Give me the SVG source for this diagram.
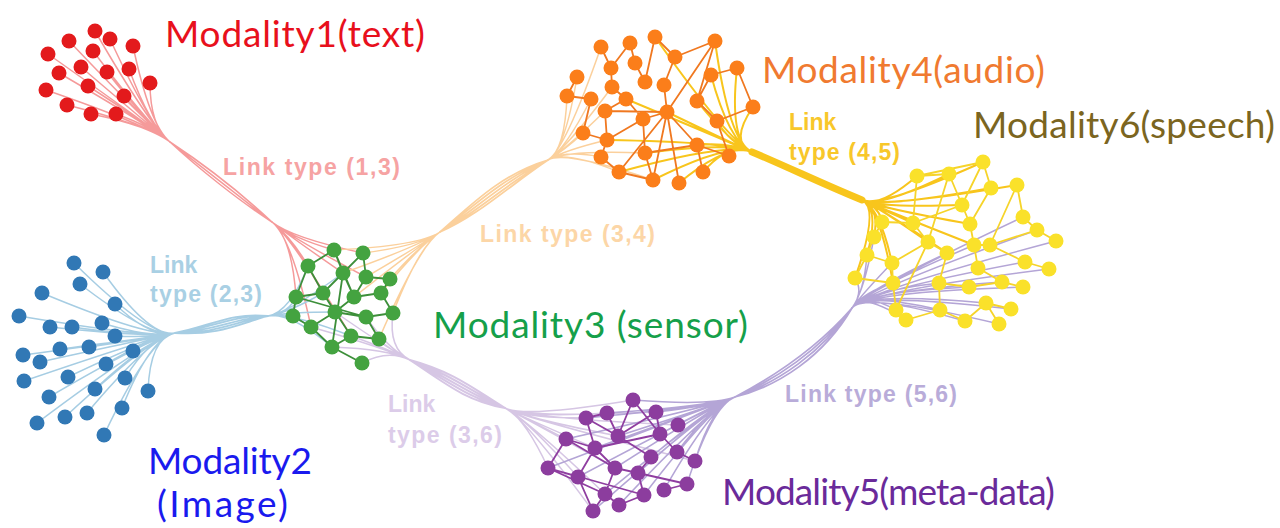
<svg xmlns="http://www.w3.org/2000/svg" width="1280" height="528" viewBox="0 0 1280 528">
<style>
.b{fill:none;stroke-linecap:round}
.rb{stroke:#f59a9a;stroke-width:1.5}
.bb{stroke:#a6cde3;stroke-width:1.5}
.pb{stroke:#fbd09c;stroke-width:1.5}
.gb{stroke:#f8c51c;stroke-width:2}
.lb{stroke:#d6c6e4;stroke-width:1.5}
.vb{stroke:#b4a5d6;stroke-width:1.5}
.ie{fill:none;stroke-width:1.8;stroke-linecap:round}
circle{r:7.5px}
.mod{font-family:Lato,"Open Sans",sans-serif;font-size:37px}
.lnk{font-family:"Liberation Sans",Arial,sans-serif;font-weight:bold;font-size:23px}
</style>
<rect width="1280" height="528" fill="#ffffff"/>
<g id="connectors">
<path class="b rb" d="M95 31Q150 126 170 142M69 41Q150 126 170 142M110 39Q150 126 170 142M133 46Q150 126 170 142M48 54Q150 126 170 142M93 51Q150 126 170 142M59 73Q150 126 170 142M81 67Q150 126 170 142M107 72Q150 126 170 142M129 69Q150 126 170 142M150 83Q150 126 170 142M46 90Q150 126 170 142M88 86Q150 126 170 142M124 96Q150 126 170 142M67 105Q150 126 170 142M91 114Q150 126 170 142M116 114Q150 126 170 142"/>
<path class="b" stroke="#f59a9a" stroke-width="1.5" d="M170 142C200 166 240 197 272 222M170 142C202 163 242 194 272 222M170 142C198 168 238 200 272 222M170 142L272 222"/>
<path class="b rb" d="M272 222Q292 238 334 250M272 222Q292 238 363 253M272 222Q292 238 308 266M272 222Q292 238 343 273M272 222Q292 238 296 297M272 222Q292 238 323 293M272 222Q292 238 366 277M272 222Q292 238 311 327M272 222Q292 238 351 336"/>
<path class="b bb" d="M74 263Q150 338 175 333M103 272Q150 338 175 333M80 284Q150 338 175 333M42 293Q150 338 175 333M115 304Q150 338 175 333M19 316Q150 338 175 333M50 327Q150 338 175 333M72 327Q150 338 175 333M102 323Q150 338 175 333M115 336Q150 338 175 333M60 349Q150 338 175 333M89 347Q150 338 175 333M133 351Q150 338 175 333M23 355Q150 338 175 333M40 362Q150 338 175 333M106 364Q150 338 175 333M24 381Q150 338 175 333M68 377Q150 338 175 333M125 378Q150 338 175 333M95 389Q150 338 175 333M148 391Q150 338 175 333M49 397Q150 338 175 333M87 413Q150 338 175 333M65 417Q150 338 175 333M122 408Q150 338 175 333M37 423Q150 338 175 333M104 435Q150 338 175 333"/>
<path class="b" stroke="#a6cde3" stroke-width="1.8" d="M175 333C215 331 235 318 268 316M175 333C215 334 237 321 268 316M175 333C213 328 233 315 268 316M175 333C217 336 239 324 268 316M175 333C211 326 231 312 268 316"/>
<path class="b bb" d="M268 316Q290 312 296 297M268 316Q290 312 293 316M268 316Q290 312 311 327M268 316Q290 312 323 293M268 316Q290 312 308 266M268 316Q290 312 335 312M268 316Q290 312 343 273M268 316Q290 312 332 347M268 316Q290 312 351 336"/>
<path class="b pb" d="M363 253Q419 246 440 232M366 277Q419 246 440 232M390 279Q419 246 440 232M381 293Q419 246 440 232M393 313Q419 246 440 232M354 297Q419 246 440 232M343 273Q419 246 440 232M379 339Q419 246 440 232M334 250Q419 246 440 232"/>
<path class="b" stroke="#fbd09c" stroke-width="1.8" d="M440 232C475 210 505 180 548 160M440 232C477 213 507 183 548 160M440 232C473 207 503 177 548 160M440 232C479 215 509 186 548 160M440 232C471 205 501 174 548 160"/>
<path class="b pb" d="M548 160Q565 150 601 47M548 160Q565 150 577 77M548 160Q565 150 567 96M548 160Q565 150 591 99M548 160Q565 150 583 133M548 160Q565 150 607 140M548 160Q565 150 601 157M548 160Q565 150 619 172M548 160Q565 150 605 111M548 160Q565 150 612 87M548 160Q565 150 653 180M548 160Q565 150 645 153"/>
<path class="b gb" d="M729 156Q729 142 752 152M717 121Q729 142 752 152M697 145Q729 142 752 152M703 172Q729 142 752 152M711 75Q729 142 752 152M737 68Q729 142 752 152M753 107Q729 142 752 152M697 101Q729 142 752 152M715 41Q729 142 752 152M667 112Q729 142 752 152M645 153Q729 142 752 152M653 180Q729 142 752 152M679 183Q729 142 752 152M619 172Q729 142 752 152M607 140Q729 142 752 152M626 99Q729 142 752 152M655 37Q729 142 752 152"/>
<path class="b" stroke="#f8c51c" stroke-width="7" d="M752 152C790 168 825 185 862 200"/>
<path class="b gb" d="M862 200Q880 208 917 176M862 200Q880 208 949 174M862 200Q880 208 983 162M862 200Q880 208 991 188M862 200Q880 208 962 205M862 200Q880 208 882 222M862 200Q880 208 913 223M862 200Q880 208 970 224M862 200Q880 208 874 237M862 200Q880 208 928 242M862 200Q880 208 974 245M862 200Q880 208 867 255M862 200Q880 208 892 263M862 200Q880 208 947 253M862 200Q880 208 855 278M862 200Q880 208 893 283M862 200Q880 208 1017 185"/>
<path class="b lb" d="M332 347Q388 349 410 360M351 336Q388 349 410 360M362 363Q388 349 410 360M379 339Q388 349 410 360M393 313Q388 349 410 360M366 317Q388 349 410 360M311 327Q388 349 410 360M335 312Q388 349 410 360"/>
<path class="b" stroke="#d6c6e4" stroke-width="2" d="M410 360C450 378 470 395 505 408M410 360C452 375 472 392 505 408M410 360C448 381 468 398 505 408M410 360C454 372 474 389 505 408M410 360C446 384 466 401 505 408"/>
<path class="b lb" d="M505 408Q525 418 548 468M505 408Q525 418 566 439M505 408Q525 418 586 418M505 408Q525 418 607 413M505 408Q525 418 633 400M505 408Q525 418 656 412M505 408Q525 418 678 425M505 408Q525 418 578 477M505 408Q525 418 593 511M505 408Q525 418 605 494M505 408Q525 418 595 448M505 408Q525 418 618 436M505 408Q525 418 615 468M505 408Q525 418 695 461"/>
<path class="b vb" d="M633 400Q712 406 735 397M586 418Q712 406 735 397M607 413Q712 406 735 397M656 412Q712 406 735 397M678 425Q712 406 735 397M566 439Q712 406 735 397M618 436Q712 406 735 397M595 448Q712 406 735 397M660 434Q712 406 735 397M677 452Q712 406 735 397M651 457Q712 406 735 397M695 461Q712 406 735 397M548 468Q712 406 735 397M615 468Q712 406 735 397M578 477Q712 406 735 397M638 473Q712 406 735 397M687 484Q712 406 735 397M605 494Q712 406 735 397M644 495Q712 406 735 397M664 490Q712 406 735 397M593 511Q712 406 735 397M619 505Q712 406 735 397"/>
<path class="b" stroke="#b4a5d6" stroke-width="1.8" d="M735 397C775 380 820 350 852 308M735 397C777 383 822 353 852 308M735 397C773 377 818 347 852 308M735 397C779 386 824 356 852 308"/>
<path class="b vb" d="M852 308Q864 292 855 278M852 308Q864 292 867 255M852 308Q864 292 893 283M852 308Q864 292 896 310M852 308Q864 292 906 320M852 308Q864 292 940 310M852 308Q864 292 939 283M852 308Q864 292 965 321M852 308Q864 292 969 287M852 308Q864 292 986 303M852 308Q864 292 999 324M852 308Q864 292 1011 309M852 308Q864 292 1002 282M852 308Q864 292 1023 287M852 308Q864 292 1025 262M852 308Q864 292 1037 230M852 308Q864 292 1056 241M852 308Q864 292 1023 217M852 308Q864 292 974 245M852 308Q864 292 947 253M852 308Q864 292 892 263M852 308Q864 292 874 237M852 308Q864 292 1049 269"/>
<g class="lnk">
<text x="223" y="175" fill="#f6a3a3" textLength="177">Link type (1,3)</text>
<text x="150" y="273" fill="#a9d0e4">Link</text>
<text x="150" y="302" fill="#a9d0e4" textLength="112">type (2,3)</text>
<text x="480" y="242" fill="#fcd6a7" textLength="175">Link type (3,4)</text>
<text x="789" y="130" fill="#f8c72a">Link</text>
<text x="789" y="160" fill="#f8c72a" textLength="111">type (4,5)</text>
<text x="785" y="402" fill="#b9acd9" textLength="172">Link type (5,6)</text>
<text x="388" y="412" fill="#dccce9">Link</text>
<text x="388" y="443" fill="#dccce9" textLength="114">type (3,6)</text>
</g>
</g>
<g id="modality1">
<g fill="#e31a1c">
<circle cx="95" cy="31" r="7.5"/><circle cx="69" cy="41" r="7.5"/><circle cx="110" cy="39" r="7.5"/><circle cx="133" cy="46" r="7.5"/><circle cx="48" cy="54" r="7.5"/><circle cx="93" cy="51" r="7.5"/><circle cx="59" cy="73" r="7.5"/><circle cx="81" cy="67" r="7.5"/><circle cx="107" cy="72" r="7.5"/><circle cx="129" cy="69" r="7.5"/><circle cx="150" cy="83" r="7.5"/><circle cx="46" cy="90" r="7.5"/><circle cx="88" cy="86" r="7.5"/><circle cx="124" cy="96" r="7.5"/><circle cx="67" cy="105" r="7.5"/><circle cx="91" cy="114" r="7.5"/><circle cx="116" cy="114" r="7.5"/>
</g>
<text class="mod" x="165" y="47" fill="#e8101c" textLength="260">Modality1(text)</text>
</g>
<g id="modality2">
<g fill="#3178b5">
<circle cx="74" cy="263" r="7.5"/><circle cx="103" cy="272" r="7.5"/><circle cx="80" cy="284" r="7.5"/><circle cx="42" cy="293" r="7.5"/><circle cx="115" cy="304" r="7.5"/><circle cx="19" cy="316" r="7.5"/><circle cx="50" cy="327" r="7.5"/><circle cx="72" cy="327" r="7.5"/><circle cx="102" cy="323" r="7.5"/><circle cx="115" cy="336" r="7.5"/><circle cx="60" cy="349" r="7.5"/><circle cx="89" cy="347" r="7.5"/><circle cx="133" cy="351" r="7.5"/><circle cx="23" cy="355" r="7.5"/><circle cx="40" cy="362" r="7.5"/><circle cx="106" cy="364" r="7.5"/><circle cx="24" cy="381" r="7.5"/><circle cx="68" cy="377" r="7.5"/><circle cx="125" cy="378" r="7.5"/><circle cx="95" cy="389" r="7.5"/><circle cx="148" cy="391" r="7.5"/><circle cx="49" cy="397" r="7.5"/><circle cx="87" cy="413" r="7.5"/><circle cx="65" cy="417" r="7.5"/><circle cx="122" cy="408" r="7.5"/><circle cx="37" cy="423" r="7.5"/><circle cx="104" cy="435" r="7.5"/>
</g>
<text class="mod" x="148" y="474" fill="#1a1aee" textLength="164">Modality2</text>
<text class="mod" x="157" y="517" fill="#1a1aee" textLength="131">(Image)</text>
</g>
<g id="modality3">
<path class="ie" stroke="#3d8f3a" d="M334 250L343 273M334 250L308 266M363 253L343 273M363 253L366 277M308 266L296 297M308 266L323 293M343 273L354 297M343 273L323 293M366 277L390 279M366 277L354 297M390 279L381 293M296 297L323 293M296 297L293 316M323 293L335 312M354 297L381 293M354 297L335 312M381 293L393 313M293 316L311 327M335 312L311 327M335 312L366 317M366 317L393 313M311 327L332 347M351 336L379 339M351 336L332 347M332 347L362 363M366 317L379 339M323 293L351 336M343 273L332 347M296 297L366 317M334 250L354 297"/>
<g fill="#44a340">
<circle cx="334" cy="250" r="7.5"/><circle cx="363" cy="253" r="7.5"/><circle cx="308" cy="266" r="7.5"/><circle cx="343" cy="273" r="7.5"/><circle cx="366" cy="277" r="7.5"/><circle cx="390" cy="279" r="7.5"/><circle cx="296" cy="297" r="7.5"/><circle cx="323" cy="293" r="7.5"/><circle cx="354" cy="297" r="7.5"/><circle cx="381" cy="293" r="7.5"/><circle cx="293" cy="316" r="7.5"/><circle cx="335" cy="312" r="7.5"/><circle cx="366" cy="317" r="7.5"/><circle cx="393" cy="313" r="7.5"/><circle cx="311" cy="327" r="7.5"/><circle cx="351" cy="336" r="7.5"/><circle cx="379" cy="339" r="7.5"/><circle cx="332" cy="347" r="7.5"/><circle cx="362" cy="363" r="7.5"/>
</g>
<text class="mod" x="433" y="338" fill="#15a04a" textLength="315">Modality3 (sensor)</text>
</g>
<g id="modality4">
<path class="ie" stroke="#f07820" d="M601 47L611 68M630 43L635 63M630 43L611 68M655 37L645 82M655 37L675 57M715 41L675 57M715 41L697 101M715 41L667 112M675 57L664 85M635 63L645 82M611 68L612 87M577 77L567 96M567 96L591 99M591 99L583 133M612 87L626 99M626 99L643 119M626 99L605 111M605 111L607 140M664 85L667 112M667 112L643 119M667 112L697 145M667 112L679 183M643 119L645 153M643 119L607 140M711 75L697 101M737 68L711 75M737 68L753 107M753 107L717 121M697 101L717 121M717 121L729 156M697 145L729 156M697 145L703 172M645 153L653 180M619 172L653 180M607 140L601 157M601 157L619 172M583 133L607 140M645 153L697 145M619 172L667 112M653 180L667 112M605 111L667 112"/>
<g fill="#fb7e1a">
<circle cx="601" cy="47" r="7.5"/><circle cx="630" cy="43" r="7.5"/><circle cx="655" cy="37" r="7.5"/><circle cx="715" cy="41" r="7.5"/><circle cx="577" cy="77" r="7.5"/><circle cx="611" cy="68" r="7.5"/><circle cx="635" cy="63" r="7.5"/><circle cx="675" cy="57" r="7.5"/><circle cx="737" cy="68" r="7.5"/><circle cx="645" cy="82" r="7.5"/><circle cx="664" cy="85" r="7.5"/><circle cx="711" cy="75" r="7.5"/><circle cx="567" cy="96" r="7.5"/><circle cx="591" cy="99" r="7.5"/><circle cx="612" cy="87" r="7.5"/><circle cx="626" cy="99" r="7.5"/><circle cx="697" cy="101" r="7.5"/><circle cx="753" cy="107" r="7.5"/><circle cx="605" cy="111" r="7.5"/><circle cx="667" cy="112" r="7.5"/><circle cx="643" cy="119" r="7.5"/><circle cx="717" cy="121" r="7.5"/><circle cx="583" cy="133" r="7.5"/><circle cx="607" cy="140" r="7.5"/><circle cx="697" cy="145" r="7.5"/><circle cx="645" cy="153" r="7.5"/><circle cx="729" cy="156" r="7.5"/><circle cx="601" cy="157" r="7.5"/><circle cx="619" cy="172" r="7.5"/><circle cx="653" cy="180" r="7.5"/><circle cx="679" cy="183" r="7.5"/><circle cx="703" cy="172" r="7.5"/>
</g>
<text class="mod" x="762" y="83" fill="#f07a30" textLength="283">Modality4(audio)</text>
</g>
<g id="modality5">
<path class="ie" stroke="#8f3ea0" d="M586 418L607 413M586 418L595 448M607 413L618 436M633 400L618 436M633 400L660 434M656 412L618 436M656 412L660 434M566 439L595 448M566 439L548 468M595 448L615 468M595 448L578 477M618 436L651 457M660 434L677 452M677 452L695 461M651 457L638 473M615 468L638 473M548 468L578 477M548 468L605 494M578 477L593 511M605 494L593 511M605 494L619 505M615 468L605 494M638 473L644 495M638 473L687 484M664 490L687 484M644 495L619 505M586 418L618 436M566 439L615 468M595 448L660 434M548 468L644 495"/>
<g fill="#8c3d9e">
<circle cx="633" cy="400" r="7.5"/><circle cx="586" cy="418" r="7.5"/><circle cx="607" cy="413" r="7.5"/><circle cx="656" cy="412" r="7.5"/><circle cx="678" cy="425" r="7.5"/><circle cx="566" cy="439" r="7.5"/><circle cx="618" cy="436" r="7.5"/><circle cx="595" cy="448" r="7.5"/><circle cx="660" cy="434" r="7.5"/><circle cx="677" cy="452" r="7.5"/><circle cx="651" cy="457" r="7.5"/><circle cx="695" cy="461" r="7.5"/><circle cx="548" cy="468" r="7.5"/><circle cx="615" cy="468" r="7.5"/><circle cx="578" cy="477" r="7.5"/><circle cx="638" cy="473" r="7.5"/><circle cx="687" cy="484" r="7.5"/><circle cx="605" cy="494" r="7.5"/><circle cx="644" cy="495" r="7.5"/><circle cx="664" cy="490" r="7.5"/><circle cx="593" cy="511" r="7.5"/><circle cx="619" cy="505" r="7.5"/>
</g>
<text class="mod" x="722" y="505" fill="#6a2a9a" textLength="333">Modality5(meta-data)</text>
</g>
<g id="modality6">
<path class="ie" stroke="#f6d42a" d="M983 162L917 176M983 162L991 188M983 162L962 205M917 176L949 174M949 174L962 205M949 174L928 242M991 188L970 224M1017 185L1023 217M1023 217L1037 230M1037 230L1056 241M1037 230L990 245M962 205L970 224M970 224L974 245M974 245L990 245M990 245L1025 262M1025 262L1049 269M882 222L913 223M882 222L874 237M913 223L928 242M874 237L867 255M867 255L892 263M892 263L928 242M892 263L893 283M855 278L867 255M855 278L893 283M893 283L896 310M928 242L947 253M947 253L939 283M939 283L969 287M969 287L1002 282M1002 282L1023 287M978 268L1002 282M974 245L978 268M939 283L940 310M940 310L965 321M965 321L986 303M986 303L1011 309M986 303L999 324M906 320L896 310M906 320L940 310M917 176L913 223M962 205L913 223M1017 185L990 245M928 242L896 310"/>
<g fill="#fae12a">
<circle cx="983" cy="162" r="7.5"/><circle cx="917" cy="176" r="7.5"/><circle cx="949" cy="174" r="7.5"/><circle cx="991" cy="188" r="7.5"/><circle cx="1017" cy="185" r="7.5"/><circle cx="962" cy="205" r="7.5"/><circle cx="882" cy="222" r="7.5"/><circle cx="913" cy="223" r="7.5"/><circle cx="970" cy="224" r="7.5"/><circle cx="1023" cy="217" r="7.5"/><circle cx="1037" cy="230" r="7.5"/><circle cx="874" cy="237" r="7.5"/><circle cx="928" cy="242" r="7.5"/><circle cx="974" cy="245" r="7.5"/><circle cx="990" cy="245" r="7.5"/><circle cx="1056" cy="241" r="7.5"/><circle cx="867" cy="255" r="7.5"/><circle cx="892" cy="263" r="7.5"/><circle cx="947" cy="253" r="7.5"/><circle cx="978" cy="268" r="7.5"/><circle cx="1025" cy="262" r="7.5"/><circle cx="1049" cy="269" r="7.5"/><circle cx="855" cy="278" r="7.5"/><circle cx="893" cy="283" r="7.5"/><circle cx="939" cy="283" r="7.5"/><circle cx="969" cy="287" r="7.5"/><circle cx="1002" cy="282" r="7.5"/><circle cx="1023" cy="287" r="7.5"/><circle cx="896" cy="310" r="7.5"/><circle cx="940" cy="310" r="7.5"/><circle cx="986" cy="303" r="7.5"/><circle cx="1011" cy="309" r="7.5"/><circle cx="906" cy="320" r="7.5"/><circle cx="965" cy="321" r="7.5"/><circle cx="999" cy="324" r="7.5"/>
</g>
<text class="mod" x="973" y="138" fill="#7b6520" textLength="302">Modality6(speech)</text>
</g>
</svg>
